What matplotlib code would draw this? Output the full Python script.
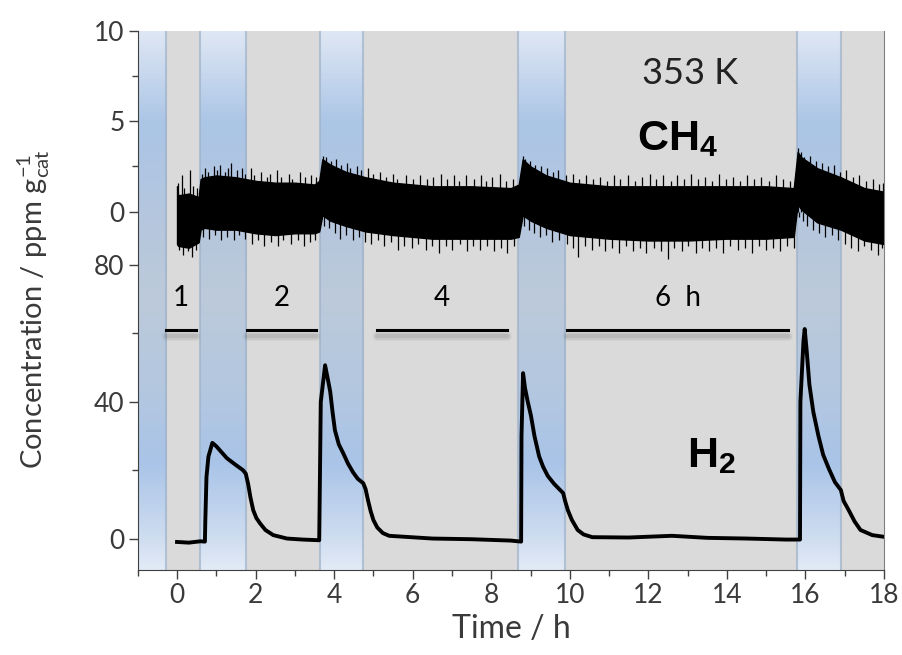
import numpy as np
import matplotlib
matplotlib.use('Agg')
import matplotlib.pyplot as plt
from matplotlib.colors import LinearSegmentedColormap

plt.rcParams['font.family'] = ['Lato', 'DejaVu Sans']
plt.rcParams['mathtext.fontset'] = 'custom'
plt.rcParams['mathtext.rm'] = 'Lato'
plt.rcParams['mathtext.it'] = 'Lato'
plt.rcParams['mathtext.bf'] = 'Liberation Sans:bold'

# purge (blue) periods, h; gray elsewhere
blue_bands = [(-1.0, -0.28), (0.585, 1.76), (3.64, 4.74), (8.68, 9.88), (15.78, 16.9)]

# CH4 signal envelope (noisy trace), ppm/g
ch4_t = [0.0, 0.03, 0.3, 0.55, 0.6, 0.7, 1.0, 1.5, 2.0, 2.5, 3.0, 3.5, 3.62, 3.7, 3.9,
         4.3, 4.8, 5.5, 6.5, 7.5, 8.5, 8.7, 8.8, 9.0, 9.4, 10.0, 11.0, 12.0, 13.0, 14.0,
         15.0, 15.7, 15.8, 15.9, 16.3, 16.9, 17.5, 18.0]
ch4_hi = [1.4, 0.9, 1.0, 0.8, 1.8, 1.9, 2.0, 1.9, 1.7, 1.6, 1.6, 1.5, 1.7, 2.9, 2.6,
          2.2, 1.9, 1.6, 1.4, 1.4, 1.3, 1.5, 2.9, 2.5, 2.0, 1.6, 1.4, 1.4, 1.4, 1.4,
          1.4, 1.3, 3.3, 3.0, 2.4, 1.9, 1.3, 1.1]
ch4_lo = [-1.8, -1.9, -2.0, -1.7, -1.0, -0.9, -1.0, -1.0, -1.2, -1.3, -1.2, -1.2, -1.1, -0.2, -0.5,
          -0.8, -1.1, -1.3, -1.5, -1.5, -1.5, -1.4, -0.2, -0.5, -0.9, -1.3, -1.5, -1.6, -1.6, -1.5,
          -1.5, -1.4, 0.4, 0.1, -0.6, -1.0, -1.6, -1.8]

# CH4 noise spikes beyond the envelope
spike_up_t = [0.02, 0.12, 0.18, 0.33, 0.41, 0.52, 0.63, 0.71, 0.78, 0.93, 1.02, 1.09, 1.22, 1.31,
              1.38, 1.52, 1.66, 1.74, 1.88, 1.97, 2.14, 2.29, 2.37, 2.55, 2.66, 2.84, 2.93, 3.12,
              3.27, 3.41, 3.55, 3.72, 3.8, 3.91, 4.06, 4.18, 4.33, 4.41, 4.58, 4.69, 4.87, 4.98,
              5.16, 5.33, 5.49, 5.61, 5.84, 6.02, 6.18, 6.37, 6.52, 6.71, 6.88, 7.04, 7.17, 7.36,
              7.55, 7.73, 7.86, 8.02, 8.21, 8.37, 8.56, 8.8, 8.87, 8.98, 9.12, 9.27, 9.43, 9.58,
              9.71, 9.9, 10.07, 10.23, 10.41, 10.6, 10.77, 10.95, 11.13, 11.28, 11.49, 11.66,
              11.84, 12.03, 12.19, 12.38, 12.57, 12.72, 12.91, 13.08, 13.26, 13.44, 13.61, 13.79,
              13.97, 14.15, 14.33, 14.52, 14.7, 14.88, 15.06, 15.24, 15.43, 15.6, 15.8, 15.88,
              15.97, 16.12, 16.26, 16.41, 16.58, 16.73, 16.88, 17.04, 17.2, 17.37, 17.55, 17.71,
              17.88, 17.97]
spike_up_v = [1.6, 2.0, 1.3, 2.3, 1.4, 1.3, 2.1, 2.4, 2.2, 2.5, 2.3, 2.6, 2.2, 2.4,
              2.7, 2.3, 2.4, 2.1, 2.4, 2.0, 2.2, 1.9, 2.1, 2.3, 1.9, 2.1, 1.8, 2.2,
              1.9, 2.0, 1.9, 3.1, 3.0, 2.8, 2.9, 2.6, 2.7, 2.4, 2.5, 2.3, 2.4, 2.1,
              2.2, 1.9, 2.1, 1.8, 2.0, 1.8, 2.0, 1.8, 1.9, 2.1, 1.8, 2.0, 1.7, 2.0,
              1.8, 2.0, 1.7, 1.9, 2.1, 1.7, 1.8, 3.1, 2.9, 2.8, 2.6, 2.5, 2.4, 2.2,
              2.3, 2.0, 2.1, 1.8, 2.0, 1.8, 1.9, 1.7, 2.0, 1.8, 2.0, 1.7,
              1.9, 2.1, 1.8, 2.0, 1.7, 2.0, 1.8, 2.1, 1.8, 1.9, 1.7, 2.1,
              1.8, 1.9, 1.7, 2.0, 1.8, 1.9, 1.7, 2.0, 1.8, 1.7, 3.5, 3.3,
              3.0, 3.1, 2.8, 2.7, 2.5, 2.6, 2.2, 2.3, 1.9, 2.0, 1.7, 1.8,
              1.5, 1.6]
spike_dn_t = [0.04, 0.15, 0.27, 0.38, 0.49, 0.66, 0.82, 0.97, 1.11, 1.27, 1.44, 1.58, 1.72, 1.91,
              2.07, 2.21, 2.4, 2.58, 2.71, 2.89, 3.07, 3.23, 3.38, 3.52, 3.74, 3.87, 4.01, 4.16,
              4.3, 4.47, 4.63, 4.79, 4.95, 5.12, 5.28, 5.45, 5.63, 5.79, 5.97, 6.14, 6.33, 6.5,
              6.66, 6.84, 7.01, 7.2, 7.38, 7.53, 7.71, 7.9, 8.06, 8.24, 8.41, 8.59, 8.84, 8.95,
              9.09, 9.24, 9.39, 9.55, 9.73, 9.92, 10.08, 10.22, 10.39, 10.56, 10.74, 10.9, 11.07,
              11.25, 11.43, 11.6, 11.78, 11.95, 12.14, 12.31, 12.5, 12.66, 12.85, 13.02, 13.2,
              13.37, 13.55, 13.73, 13.91, 14.08, 14.27, 14.45, 14.63, 14.81, 14.99, 15.17, 15.36,
              15.54, 15.7, 15.84, 15.93, 16.05, 16.19, 16.34, 16.5, 16.67, 16.83, 17.0, 17.16,
              17.33, 17.5, 17.67, 17.84, 17.96]
spike_dn_v = [-2.1, -2.4, -2.2, -2.5, -2.1, -1.4, -1.5, -1.3, -1.6, -1.4, -1.6, -1.3, -1.5, -1.8,
              -1.6, -1.9, -1.7, -1.9, -1.6, -1.8, -1.6, -1.9, -1.7, -1.6, -0.8, -0.9, -1.2, -1.5,
              -1.3, -1.6, -1.4, -1.7, -1.8, -1.6, -1.9, -1.7, -2.1, -1.9, -2.0, -1.8, -2.1, -1.9,
              -2.3, -1.9, -2.1, -1.8, -2.2, -1.9, -2.1, -1.9, -2.2, -2.0, -2.3, -1.9, -0.8, -1.0,
              -1.2, -1.4, -1.3, -1.7, -1.6, -1.8, -2.0, -2.5, -1.9, -2.1, -1.9, -2.2, -2.0,
              -2.3, -1.9, -2.2, -2.0, -2.3, -2.0, -2.2, -2.6, -2.0, -2.2, -1.9, -2.3,
              -2.0, -2.2, -2.0, -2.3, -1.9, -2.1, -2.0, -2.3, -1.9, -2.1, -2.0, -2.2,
              -1.9, -2.0, -0.3, -0.5, -0.8, -1.0, -1.2, -1.4, -1.3, -1.6, -1.8, -2.0,
              -2.2, -1.9, -2.1, -2.4, -2.0]

# H2 signal, ppm/g
h2_t = [0.0, 0.3, 0.6, 0.71, 0.72, 0.75, 0.8, 0.9, 1.0, 1.27, 1.5, 1.68, 1.75, 1.81, 1.87,
        1.94, 2.02, 2.11, 2.25, 2.45, 2.8, 3.2, 3.62, 3.66, 3.77, 3.85, 3.9, 3.96, 4.02,
        4.12, 4.23, 4.35, 4.48, 4.6, 4.74, 4.8, 4.86, 4.93, 5.0, 5.1, 5.24, 5.4, 6.5, 7.5,
        8.5, 8.76, 8.77, 8.81, 8.86, 8.93, 9.01, 9.1, 9.22, 9.32, 9.44, 9.6, 9.83, 9.88,
        9.95, 10.05, 10.2, 10.35, 10.57, 11.5, 12.6, 13.5, 14.5, 15.5, 15.86, 15.87, 15.95,
        15.98, 16.03, 16.1, 16.2, 16.33, 16.45, 16.6, 16.75, 16.9, 16.97, 17.1, 17.25, 17.4,
        17.7, 18.0]
h2_v = [-1.0, -1.2, -0.8, -0.9, 5.0, 18.0, 24.0, 28.0, 27.0, 23.5, 21.5, 20.0, 19.0, 16.0, 12.0,
        8.3, 6.0, 4.5, 2.5, 1.0, 0.0, -0.3, -0.5, 40.0, 50.7, 46.0, 43.0, 37.0, 31.7,
        27.5, 25.0, 22.0, 19.4, 17.5, 16.2, 14.5, 11.3, 8.0, 5.4, 3.2, 1.6, 0.8, 0.0, -0.2,
        -0.6, -0.9, 30.0, 48.4, 44.0, 40.0, 36.0, 30.0, 24.0, 21.0, 18.3, 16.0, 13.3, 11.0,
        8.3, 5.5, 2.5, 1.2, 0.4, 0.3, 0.8, 0.2, 0.0, -0.3, -0.3, 40.0, 58.0,
        61.3, 55.0, 45.0, 37.0, 30.0, 24.5, 20.3, 16.5, 14.2, 11.0, 8.3, 5.0, 2.5,
        1.0, 0.5]

# hold-time bars
bar_labels = ['1', '2', '4', '6  h']
bar_start = [-0.28, 1.78, 5.09, 9.93]
bar_end = [0.48, 3.54, 8.40, 15.56]
bar_level = 61

fig = plt.figure(figsize=(9.02, 6.55), dpi=100)
left, width = 0.1527, 0.8274

# background bands
ax_bg = fig.add_axes([left, 0.1298, width, 0.9527 - 0.1298], zorder=0)
ax_bg.axis('off')
ax_bg.axvspan(-1, 18, color='#dadada', lw=0)
band_cmap = LinearSegmentedColormap.from_list('band', [
    (0.0, '#dfe7f4'), (0.17, '#abc5e6'), (0.39, '#b7c7dc'), (0.5, '#bccada'),
    (0.67, '#b3c7e0'), (0.8, '#a9c4e8'), (0.93, '#cbdaef'), (1.0, '#e2eaf6')])
grad = np.linspace(0, 1, 256).reshape(-1, 1)
for x0, x1 in blue_bands:
    ax_bg.imshow(grad, cmap=band_cmap, extent=(x0, x1, 0, 1), aspect='auto',
                 origin='upper', zorder=1)
    for xe in (x0, x1):
        if xe > -1:
            ax_bg.axvline(xe, color='#9fb2c9', lw=1.5, alpha=0.7, zorder=2)
ax_bg.set_xlim(-1, 18)
ax_bg.set_ylim(0, 1)

axis_col = '#404040'

# top: CH4
ax1 = fig.add_axes([left, 0.597, width, 0.3557], zorder=2)
ax1.patch.set_alpha(0)
ax1.fill_between(ch4_t, ch4_lo, ch4_hi, color='black', lw=1.0, edgecolor='black')
ax1.vlines(spike_up_t, 0, spike_up_v, color='black', lw=0.9)
ax1.vlines(spike_dn_t, spike_dn_v, 0, color='black', lw=0.9)
ax1.set_xlim(-1, 18)
ax1.set_ylim(-2.9, 10)
ax1.set_yticks([0, 5, 10])
ax1.set_yticks([2.5, 7.5], minor=True)
ax1.set_xticks([])
for s in ['top', 'bottom']:
    ax1.spines[s].set_visible(False)
ax1.spines['right'].set_color('#808080')
ax1.spines['left'].set_color(axis_col)
ax1.text(13.06, 7.67, '353 K', fontsize=26, ha='center', va='center', color='#222222')
ax1.text(12.75, 3.4, r'$\mathbf{CH_4}$', fontsize=31, ha='center', va='baseline', color='black')

# bottom: H2
ax2 = fig.add_axes([left, 0.1298, width, 0.467], zorder=2)
ax2.patch.set_alpha(0)
ax2.plot(h2_t, h2_v, color='black', lw=2.8)
for lab, x0, x1 in zip(bar_labels, bar_start, bar_end):
    for w, a in [(7, 0.05), (5, 0.08), (3, 0.12)]:
        ax2.plot([x0, x1], [bar_level - 1.6, bar_level - 1.6], color='#505050', lw=w,
                 alpha=a, solid_capstyle='round')
    ax2.plot([x0, x1], [bar_level, bar_level], color='black', lw=2.2)
    ax2.text((x0 + x1) / 2, 70.3, lab, fontsize=20, ha='center', va='center', color='black')
ax2.text(13.6, 20.9, r'$\mathbf{H_2}$', fontsize=31, ha='center', va='baseline', color='black')
ax2.set_xlim(-1, 18)
ax2.set_ylim(-9.2, 80.3)
ax2.set_yticks([0, 40, 80])
ax2.set_yticks([20, 60], minor=True)
ax2.set_xticks(range(0, 19, 2))
ax2.set_xticks(range(-1, 18, 2), minor=True)
ax2.spines['top'].set_visible(False)
ax2.spines['right'].set_color('#808080')
ax2.spines['left'].set_color(axis_col)
ax2.spines['bottom'].set_color(axis_col)
ax2.set_xlabel('Time / h', fontsize=23, color='#3a3a3a', labelpad=4)

for ax in (ax1, ax2):
    ax.tick_params(axis='both', which='major', length=6.5, width=1, color=axis_col,
                   labelsize=19, labelcolor='#3a3a3a', pad=3)
    ax.tick_params(axis='both', which='minor', length=4, width=1, color=axis_col)

fig.text(0.037, 0.528, r'Concentration / ppm g$_{\rm cat}^{-1}$', rotation=90,
         fontsize=21, color='#3a3a3a', ha='center', va='center')

fig.savefig('out.png', dpi=100)
